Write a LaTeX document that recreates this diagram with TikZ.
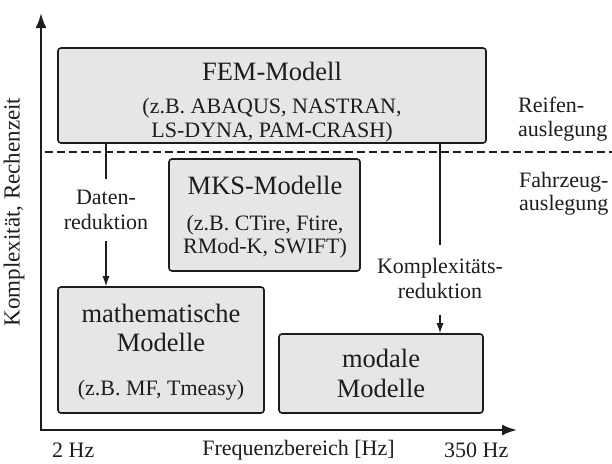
\documentclass[tikz,border=0pt]{standalone}
\usepackage{fontspec}
\setmainfont{Liberation Serif}
\usetikzlibrary{arrows.meta}
\definecolor{boxgray}{RGB}{230,230,231}
\definecolor{ink}{RGB}{30,28,29}
\begin{document}
\begin{tikzpicture}[x=1pt,y=-1pt,
  every node/.style={text=ink},
  modelbox/.style={draw=ink, line width=1.6pt, fill=boxgray, rounded corners=3pt, inner sep=0pt},
  axis/.style={draw=ink, line width=2.2pt, {Latex[length=15pt,width=11pt]}-{Latex[length=15pt,width=11pt]}},
  conn/.style={draw=ink, line width=1.2pt},
  connarrow/.style={conn, -{Latex[length=10pt,width=7pt]}},
  big/.style={font=\fontsize{26.5}{30}\selectfont, inner sep=0pt, anchor=base},
  sub/.style={font=\fontsize{22}{25}\selectfont, inner sep=0pt, anchor=base},
  lbl/.style={font=\fontsize{22}{25}\selectfont, align=center, anchor=north},
  side/.style={font=\fontsize{22}{23.5}\selectfont, align=left, anchor=north west, inner sep=0pt}
]
\useasboundingbox (0,0) rectangle (612,463);

% axes
\coordinate (origin) at (41,430);
\coordinate (ytip) at (41,13);
\coordinate (xtip) at (517,430);
\draw[axis] (ytip) -- (origin) -- (xtip);

% dashed separation
\coordinate (dashL) at (45,152);
\coordinate (dashR) at (612,152);
\draw[draw=ink, line width=2.3pt, dash pattern=on 8pt off 4pt] (dashL) -- (dashR);

% boxes
\node[modelbox, minimum width=428pt, minimum height=95pt] (fem) at (272,95.5) {};
\node[modelbox, minimum width=191pt, minimum height=112pt] (mks) at (264.5,215) {};
\node[modelbox, minimum width=206pt, minimum height=126pt] (math) at (161,350) {};
\node[modelbox, minimum width=204pt, minimum height=79pt] (modal) at (381,373.5) {};

% box texts
\node[big] (femT) at (272,80) {FEM-Modell};
\node[sub] (femS1) at (272,113) {(z.B. ABAQUS, NASTRAN,};
\node[sub] (femS2) at (272,137) {LS-DYNA, PAM-CRASH)};
\node[big] (mksT) at (265,194) {MKS-Modelle};
\node[sub] (mksS1) at (265,230) {(z.B. CTire, Ftire,};
\node[sub] (mksS2) at (265,253) {RMod-K, SWIFT)};
\node[big] (mathT1) at (161,322) {mathematische};
\node[big] (mathT2) at (161,351) {Modelle};
\node[sub] (mathS) at (161,395) {(z.B. MF, Tmeasy)};
\node[big] (modT1) at (381,367) {modale};
\node[big] (modT2) at (381,397) {Modelle};

% connector labels
\node[lbl, inner sep=11pt] (dr) at (106,179) {Daten-\\reduktion};
\node[lbl, inner sep=13pt] (km) at (440,245) {Komplexitäts-\\reduktion};

% connectors
\draw[conn] (fem.south -| dr.north) -- (dr.north);
\draw[connarrow] (dr.south) -- (dr.south |- math.north);
\draw[conn] (fem.south -| km.north) -- (km.north);
\draw[connarrow, shorten <=3pt] (km.south) -- (km.south |- modal.north);

% side labels
\node[side] (reifen) at (518,97) {Reifen-\\auslegung};
\node[side] (fahrzeug) at (519,172) {Fahrzeug-\\auslegung};

% axis labels
\node[sub, anchor=base west] (f2) at (52,457) {2 Hz};
\node[sub] (freq) at (298.5,455) {Frequenzbereich [Hz]};
\node[sub, anchor=base west] (f350) at (444,457) {350 Hz};
\node[font=\fontsize{23}{26}\selectfont, rotate=90, inner sep=0pt] (ylab) at (14,212) {Komplexität, Rechenzeit};
\end{tikzpicture}
\end{document}
